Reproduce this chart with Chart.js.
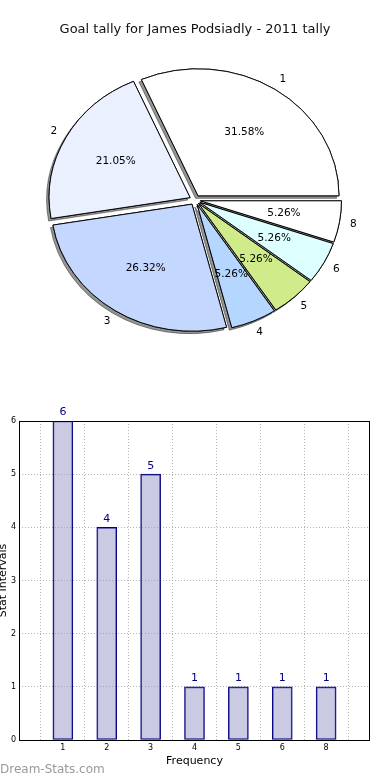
<!DOCTYPE html>
<html>
<head>
<meta charset="utf-8">
<script src="https://cdn.jsdelivr.net/npm/chart.js@4/dist/chart.umd.min.js"></script>
<style>
  html, body { margin: 0; padding: 0; background: #fff; }
  canvas { display: block; }
</style>
</head>
<body>
<canvas id="pie" width="390" height="390"></canvas>
<canvas id="bar" width="390" height="390"></canvas>
<script>
// ---- data ----
const chartTitle = 'Goal tally for James Podsiadly - 2011 tally';
const categories = ['1', '2', '3', '4', '5', '6', '8'];
const goals = [6, 4, 5, 1, 1, 1, 1];
const sliceColors = ['#ffffff', '#ebf0ff', '#c4d7ff', '#b4d6ff', '#d0eb8a', '#dcffff', '#ffffff'];
const yTicks = [0, 1, 2, 3, 4, 5, 6];
const xAxisTitle = 'Frequency';
const yAxisTitle = 'Stat Intervals';
const watermark = 'Dream-Stats.com';

const FONT = "'DejaVu Sans', 'Liberation Sans', sans-serif";
const total = goals.reduce((a, b) => a + b, 0);

// pie is drawn counter-clockwise in the reference: feed reversed order clockwise
const pieLabels = categories.slice().reverse();
const pieValues = goals.slice().reverse();
const pieColors = sliceColors.slice().reverse();

const STRETCH_X = 1.11;   // reference pie is slightly elliptical
const EXPLODE = 5;        // px
const SHADOW = 2.5;       // px

const piePlugin = {
  id: 'piePlugin',
  beforeDatasetDraw(chart, args) {
    const ctx = chart.ctx;
    const meta = args.meta;
    const els = meta.data;
    if (!els.length) return;
    const cx = els[0].x, cy = els[0].y;
    const drawAll = (shadow) => {
      ctx.save();
      ctx.translate(cx, cy);
      ctx.scale(STRETCH_X, 1);
      ctx.translate(-cx, -cy);
      if (shadow) {
        ctx.shadowColor = 'rgba(0,0,0,0.42)';
        ctx.shadowOffsetX = -SHADOW;
        ctx.shadowOffsetY = SHADOW;
        ctx.shadowBlur = 0;
      }
      els.forEach(el => {
        const mid = (el.startAngle + el.endAngle) / 2;
        ctx.save();
        ctx.translate(Math.cos(mid) * EXPLODE, Math.sin(mid) * EXPLODE);
        el.draw(ctx);
        ctx.restore();
      });
      ctx.restore();
    };
    drawAll(true);
    drawAll(false);
    return false;
  },
  afterDatasetsDraw(chart) {
    const ctx = chart.ctx;
    const meta = chart.getDatasetMeta(0);
    ctx.save();
    ctx.fillStyle = '#000';
    ctx.font = '10.5px ' + FONT;
    ctx.textAlign = 'center';
    ctx.textBaseline = 'middle';
    meta.data.forEach((el, i) => {
      const mid = (el.startAngle + el.endAngle) / 2;
      const r = el.outerRadius;
      const c = Math.cos(mid), s = Math.sin(mid);
      const ex = EXPLODE * c * STRETCH_X, ey = EXPLODE * s;
      const lx = el.x + ex + 1.1 * r * c * STRETCH_X;
      const ly = el.y + ey + 1.1 * r * s;
      ctx.fillText(pieLabels[i], lx, ly);
      const px = el.x + ex + 0.6 * r * c * STRETCH_X;
      const py = el.y + ey + 0.6 * r * s;
      ctx.fillText((pieValues[i] / total * 100).toFixed(2) + '%', px, py);
    });
    ctx.restore();
  }
};

new Chart(document.getElementById('pie'), {
  type: 'pie',
  data: {
    labels: pieLabels,
    datasets: [{
      data: pieValues,
      backgroundColor: pieColors,
      borderColor: '#000',
      borderWidth: 0.9,
      offset: 0,
      hoverOffset: 0
    }]
  },
  options: {
    responsive: false,
    animation: false,
    events: [],
    rotation: 90,
    radius: 127,
    layout: { padding: { top: 0, bottom: 37.6, left: 0, right: 0 } },
    plugins: {
      legend: { display: false },
      tooltip: { enabled: false },
      title: {
        display: true,
        text: chartTitle,
        color: '#111',
        font: { family: FONT, size: 13, weight: 'normal' },
        padding: { top: 22, bottom: 10 }
      }
    }
  },
  plugins: [piePlugin]
});

// ---- bar chart ----
const barLabels = [''].concat(categories, ['']);
const barValues = [null].concat(goals, [null]);

const barPlugin = {
  id: 'barPlugin',
  afterDatasetsDraw(chart) {
    const ctx = chart.ctx;
    const a = chart.chartArea;
    ctx.save();
    ctx.strokeStyle = '#000';
    ctx.lineWidth = 1;
    ctx.strokeRect(Math.round(a.left) + 0.5, Math.round(a.top) + 0.5,
                   Math.round(a.right - a.left) - 1, Math.round(a.bottom - a.top));
    const meta = chart.getDatasetMeta(0);
    ctx.fillStyle = '#000088';
    ctx.font = '11px ' + FONT;
    ctx.textAlign = 'center';
    ctx.textBaseline = 'bottom';
    meta.data.forEach((el, i) => {
      const v = barValues[i];
      if (v === null || v === undefined) return;
      ctx.fillText(String(v), el.x, el.y - 3);
    });
    ctx.fillStyle = '#999999';
    ctx.font = '12px ' + FONT;
    ctx.textAlign = 'left';
    ctx.textBaseline = 'middle';
    ctx.fillText(watermark, 0, chart.height - 10);
    ctx.restore();
  }
};

new Chart(document.getElementById('bar'), {
  type: 'bar',
  data: {
    labels: barLabels,
    datasets: [{
      data: barValues,
      backgroundColor: 'rgba(150,150,200,0.5)',
      borderColor: '#000080',
      borderWidth: 1,
      borderSkipped: false,
      barThickness: 20
    }]
  },
  options: {
    responsive: false,
    animation: false,
    events: [],
    layout: { padding: { top: 31, bottom: 12.4, left: 0, right: 20 } },
    plugins: {
      legend: { display: false },
      tooltip: { enabled: false }
    },
    scales: {
      x: {
        type: 'category',
        offset: false,
        grid: { color: '#b5b5b5', lineWidth: 1, drawTicks: false },
        border: { display: false, dash: [1, 2] },
        ticks: { color: '#000', font: { family: FONT, size: 8 }, padding: 3, autoSkip: false, maxRotation: 0 },
        title: { display: true, text: xAxisTitle, color: '#000', font: { family: FONT, size: 11 }, padding: 0 },
        afterFit(scale) { scale.height = 27.6; }
      },
      y: {
        min: yTicks[0],
        max: yTicks[yTicks.length - 1],
        grid: { color: '#b5b5b5', lineWidth: 1, drawTicks: false },
        border: { display: false, dash: [1, 2] },
        ticks: { stepSize: 1, color: '#000', font: { family: FONT, size: 8 }, padding: 3 },
        title: { display: true, text: yAxisTitle, color: '#000', font: { family: FONT, size: 11 }, padding: { top: -3, bottom: 0 } },
        afterFit(scale) { scale.width = 19; }
      }
    }
  },
  plugins: [barPlugin]
});
</script>
</body>
</html>
